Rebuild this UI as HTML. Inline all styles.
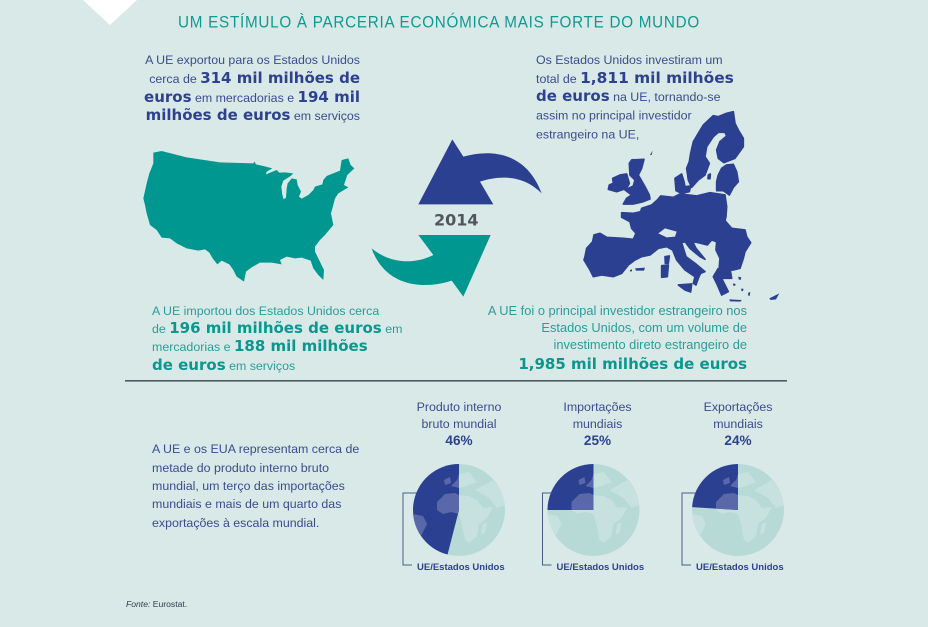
<!DOCTYPE html>
<html lang="pt">
<head>
<meta charset="utf-8">
<title>Um estímulo à parceria económica mais forte do mundo</title>
<style>
html,body{margin:0;padding:0;background:#d9e9e8;width:928px;height:627px;overflow:hidden}
svg{display:block}
text{font-family:"Liberation Sans",sans-serif}
.navy{fill:#3c4b8f;font-size:12.4px}
.teal{fill:#2a9d96;font-size:12.4px}
.teal2{fill:#2a9d96;font-size:12.85px}
.bn{fill:#2e4190;font-family:"DejaVu Sans",sans-serif;font-weight:bold;font-size:15px}
.bt{fill:#0b968e;font-family:"DejaVu Sans",sans-serif;font-weight:bold;font-size:15px}
.end{text-anchor:end}
.mid{text-anchor:middle}
</style>
</head>
<body>
<svg id="chart" width="928" height="627" viewBox="0 0 928 627" xmlns="http://www.w3.org/2000/svg">
<defs>
  <g id="land">
    <path d="M-22,-8 L-14,-16 L-4,-17 L0,-15 L10,-14 L18,-10 L24,-2 L34,-3 L28,8 L20,14 L18,26 L10,33 L6,30 L3,14 L0,4 L-8,2 L-16,4 L-22,0Z"/>
    <path d="M-8,-24 L-2,-30 L0,-36 L10,-38 L18,-28 L8,-24 L0,-22Z"/>
    <path d="M-15,-30 L-9,-33 L-8,-27 L-14,-25Z"/>
    <path d="M16,-20 L34,-30 L44,-18 L46,-5 L38,-2 L30,-12Z"/>
    <path d="M-46,4 L-36,6 L-32,14 L-38,26 L-43,24 L-46,14Z"/>
    <path d="M24,14 L28,12 L26,23 L22,24Z"/>
  </g>
</defs>

<rect width="928" height="627" fill="#d9e9e8"/>
<polygon points="83,0 137,0 110,25" fill="#ffffff"/>

<text x="178" y="27.5" textLength="522" lengthAdjust="spacingAndGlyphs" style="font-size:16.5px;letter-spacing:.8px;fill:#0f9a90">UM ESTÍMULO À PARCERIA ECONÓMICA MAIS FORTE DO MUNDO</text>

<g>
  <text x="360" y="64" class="navy end">A UE exportou para os Estados Unidos</text>
  <text x="360" y="83" class="navy end">cerca de <tspan class="bn">314 mil milhões de</tspan></text>
  <text x="360" y="102" class="navy end"><tspan class="bn">euros</tspan> em mercadorias e <tspan class="bn">194 mil</tspan></text>
  <text x="360" y="120" class="navy end"><tspan class="bn">milhões de euros</tspan> em serviços</text>
</g>

<g>
  <text x="536" y="64" class="navy">Os Estados Unidos investiram um</text>
  <text x="536" y="83" class="navy">total de <tspan class="bn" style="font-size:15.4px">1,811 mil milhões</tspan></text>
  <text x="536" y="101" class="navy"><tspan class="bn">de euros</tspan> na UE, tornando-se</text>
  <text x="536" y="119.5" class="navy">assim no principal investidor</text>
  <text x="536" y="138.5" class="navy">estrangeiro na UE,</text>
</g>

<g transform="translate(120,130) scale(0.3333)">
  <path fill="#009790" d="M100,68 L125,63 L200,82 L300,97 L400,100 L403,94 L408,103 L430,108 L457,115 L440,125 L438,133 L470,120 L478,128 L495,127 L520,130 L512,138 L490,152 L484,170 L487,195 L491,208 L498,203 L500,175 L503,160 L515,145 L530,148 L533,165 L543,185 L537,200 L545,206 L565,195 L580,180 L585,170 L607,163 L610,150 L620,138 L660,122 L665,90 L685,85 L692,105 L703,115 L682,135 L672,165 L685,172 L655,190 L645,205 L640,225 L633,250 L640,285 L615,315 L600,330 L585,350 L585,365 L595,385 L612,420 L610,450 L595,435 L580,415 L572,392 L545,383 L525,385 L500,380 L480,390 L485,403 L455,398 L420,398 L395,412 L378,425 L372,455 L350,440 L340,420 L328,403 L305,392 L292,403 L278,385 L268,368 L255,358 L235,362 L200,355 L170,340 L150,325 L125,323 L110,300 L90,285 L80,250 L75,225 L70,205 L80,160 L88,130 L100,100Z"/>
</g>

<g transform="translate(360,110) scale(0.3333)">
  <path fill="#2c4091" d="M175,283 L277,88 L310,140 C400,115 500,130 545,250 C490,195 420,195 360,215 L400,283Z"/>
  <path fill="#009790" d="M175,375 L392,375 L310,560 L275,512 C190,540 75,530 35,415 C90,460 160,465 220,435Z"/>
</g>
<text x="434" y="225.5" style="font-family:'DejaVu Sans',sans-serif;font-weight:bold;font-size:16px;fill:#52565c">2014</text>

<g transform="translate(570,100) scale(0.3333)" fill="#2c4091" stroke="#2c4091" stroke-width="5" stroke-linejoin="round">
  <path d="M490,35 L470,40 L445,50 L430,47 L400,75 L385,100 L370,125 L362,160 L358,185 L350,205 L355,240 L365,262 L385,240 L405,225 L418,190 L405,170 L410,140 L430,110 L445,97 L465,97 L470,108 L450,125 L440,150 L445,175 L462,188 L495,175 L520,140 L520,115 L505,90 L495,70Z"/>
  <path d="M440,245 L445,225 L455,205 L470,195 L490,193 L500,215 L505,245 L490,262 L478,285 L460,272 L440,272Z"/>
  <path d="M315,235 L335,222 L342,245 L345,260 L362,258 L358,275 L335,280 L318,272Z"/>
  <path d="M415,225 L421,222 L420,236 L414,236Z"/>
  <path d="M178,190 L185,180 L222,178 L215,205 L205,225 L225,260 L238,285 L240,297 L220,305 L190,312 L160,312 L170,295 L185,285 L165,270 L190,258 L195,240 L180,225Z"/>
  <path d="M115,268 L118,255 L130,250 L128,235 L150,225 L170,222 L178,250 L170,265 L140,275Z"/>
  <path d="M45,470 L50,445 L68,425 L72,405 L90,400 L110,412 L160,415 L190,418 L198,400 L185,385 L180,365 L155,352 L155,338 L190,340 L212,335 L215,325 L245,315 L262,300 L272,288 L310,292 L330,282 L380,288 L420,278 L465,285 L470,320 L468,350 L465,362 L485,385 L525,390 L530,410 L542,428 L525,455 L520,475 L510,505 L490,510 L465,510 L448,500 L450,475 L438,450 L440,425 L425,420 L412,435 L385,428 L368,425 L378,445 L405,478 L390,470 L360,445 L345,425 L335,428 L348,470 L375,490 L405,515 L392,520 L385,535 L378,555 L370,550 L375,530 L345,510 L320,480 L308,450 L290,440 L265,445 L240,465 L215,470 L195,480 L175,495 L155,520 L130,530 L95,525 L70,530 L60,510 L42,480Z"/>
  <path fill="#d9e9e8" stroke="none" d="M265,400 L285,385 L320,395 L315,410 L290,412Z"/>
  <path d="M325,555 L365,552 L362,576 L345,570Z"/>
  <path d="M275,497 L295,495 L292,530 L275,532Z"/>
  <path d="M285,470 L298,468 L295,490 L286,490Z"/>
  <path stroke="none" d="M195,505 L225,503 L222,512 L198,512Z"/>
  <path stroke="none" d="M180,510 L186,508 L186,514 L180,514Z"/>
  <path d="M430,530 L445,505 L480,505 L485,535 L455,535 L475,575 L455,585 L440,550Z"/>
  <path stroke="none" d="M478,598 L515,600 L512,605 L480,604Z"/>
  <path stroke="none" d="M505,530 L514,532 L512,540 L506,538Z"/>
  <path stroke="none" d="M490,550 L497,552 L495,558 L489,556Z"/>
  <path stroke="none" d="M515,565 L521,567 L518,574 L513,571Z"/>
  <path stroke="none" d="M535,578 L541,576 L539,588 L534,586Z"/>
  <path stroke="none" d="M598,595 L628,580 L618,598 L602,600Z"/>
  <path stroke="none" d="M240,165 L248,152 L245,165Z"/>
  <path stroke="none" d="M178,187 L188,175 L186,188Z"/>
</g>

<g>
  <text x="152" y="315" class="teal">A UE importou dos Estados Unidos cerca</text>
  <text x="152" y="333" class="teal">de <tspan class="bt">196 mil milhões de euros</tspan> em</text>
  <text x="152" y="351" class="teal">mercadorias e <tspan class="bt">188 mil milhões</tspan></text>
  <text x="152" y="370" class="teal"><tspan class="bt">de euros</tspan> em serviços</text>
</g>

<g>
  <text x="747" y="315" class="teal2 end">A UE foi o principal investidor estrangeiro nos</text>
  <text x="747" y="332" class="teal2 end">Estados Unidos, com um volume de</text>
  <text x="747" y="349" class="teal2 end">investimento direto estrangeiro de</text>
  <text x="747" y="369" class="bt end">1,985 mil milhões de euros</text>
</g>

<rect x="125" y="380" width="662" height="1.6" fill="#4b5a5c"/>

<g>
  <text x="152" y="453" class="navy">A UE e os EUA representam cerca de</text>
  <text x="152" y="472" class="navy">metade do produto interno bruto</text>
  <text x="152" y="490" class="navy">mundial, um terço das importações</text>
  <text x="152" y="508" class="navy">mundiais e mais de um quarto das</text>
  <text x="152" y="527" class="navy">exportações à escala mundial.</text>
</g>

<text x="126" y="607" style="font-size:8.6px;fill:#2f3a4a"><tspan font-style="italic">Fonte:</tspan> Eurostat.</text>

<g id="pies"></g>
</svg>

<script>
const pieLines1 = ["Produto interno", "Importações", "Exportações"];
const pieLines2 = ["bruto mundial", "mundiais", "mundiais"];
const pieShares = [46, 25, 24];
const seriesLabel = "UE/Estados Unidos";

const NS = "http://www.w3.org/2000/svg";
const root = document.getElementById("pies");
const defs = document.querySelector("#chart defs");
const firstCenter = 459, centerGap = 139.5, centerY = 510, radius = 46;

function make(tag, attrs, parent) {
  const el = document.createElementNS(NS, tag);
  for (const k in attrs) el.setAttribute(k, attrs[k]);
  parent.appendChild(el);
  return el;
}
function labelX(i) {
  return firstCenter + i * centerGap;
}
function discX(i) {
  /* the middle globe sits slightly left of its caption */
  return labelX(i) - (i === 1 ? 5 : 0);
}
function wedgePath(cx, cy, r, share) {
  const a = 2 * Math.PI * share / 100;
  const x = cx - r * Math.sin(a);
  const y = cy - r * Math.cos(a);
  const large = share > 50 ? 1 : 0;
  return "M" + cx + "," + cy + " L" + cx + "," + (cy - r) + " A" + r + "," + r + " 0 " + large + " 0 " + x + "," + y + "Z";
}

pieShares.forEach(function (share, i) {
  const tx = labelX(i);
  const cx = discX(i);
  const g = make("g", {}, root);
  
  

  const t1 = make("text", {x: tx - (i === 1 ? 1 : 0), y: 411, "class": "navy mid"}, g);
  
  
  t1.textContent = pieLines1[i];

  const t2 = make("text", {x: tx - (i === 1 ? 1 : 0), y: 428, "class": "navy mid"}, g);
  
  
  t2.textContent = pieLines2[i];

  const t3 = make("text", {x: tx - (i === 1 ? 1 : 0), y: 445, "class": "mid", "font-weight": "bold", "font-size": "13.6px", fill: "#2e4190"}, g);
  
  
  t3.textContent = share + "%";

  const bx = tx - 56;
  const bracket = make("path", {d: "M" + (cx - 38) + ",493 H" + bx + " V565 H" + (bx + 9), fill: "none", stroke: "#4a5a86", "stroke-width": 1}, g);
  
  

  const disc = make("circle", {cx: cx, cy: centerY, r: radius, fill: "#b8dad7"}, g);
  
  

  const clipOuter = make("clipPath", {id: "disc-" + i}, defs);
  make("circle", {cx: cx, cy: centerY, r: radius}, clipOuter);
  const lightG = make("g", {"clip-path": "url(#disc-" + i + ")"}, g);
  const lightLand = make("use", {href: "#land", transform: "translate(" + cx + "," + centerY + ")", fill: "#c6e1de"}, lightG);
  
  

  const wedgeD = wedgePath(cx, centerY, radius, share);
  const wedge = make("path", {d: wedgeD, fill: "#2c4091"}, g);
  
  

  const clip = make("clipPath", {id: "wedge-" + i}, defs);
  make("path", {d: wedgeD}, clip);
  const clipG = make("g", {"clip-path": "url(#wedge-" + i + ")"}, g);
  const darkLand = make("use", {href: "#land", transform: "translate(" + cx + "," + centerY + ")", fill: "#5a67a9"}, clipG);
  
  

  const lab = make("text", {x: bx + 14, y: 570, "font-weight": "bold", "font-size": "9.5px", fill: "#2e4190"}, g);
  
  
  lab.textContent = seriesLabel;
});
</script>
</body>
</html>
